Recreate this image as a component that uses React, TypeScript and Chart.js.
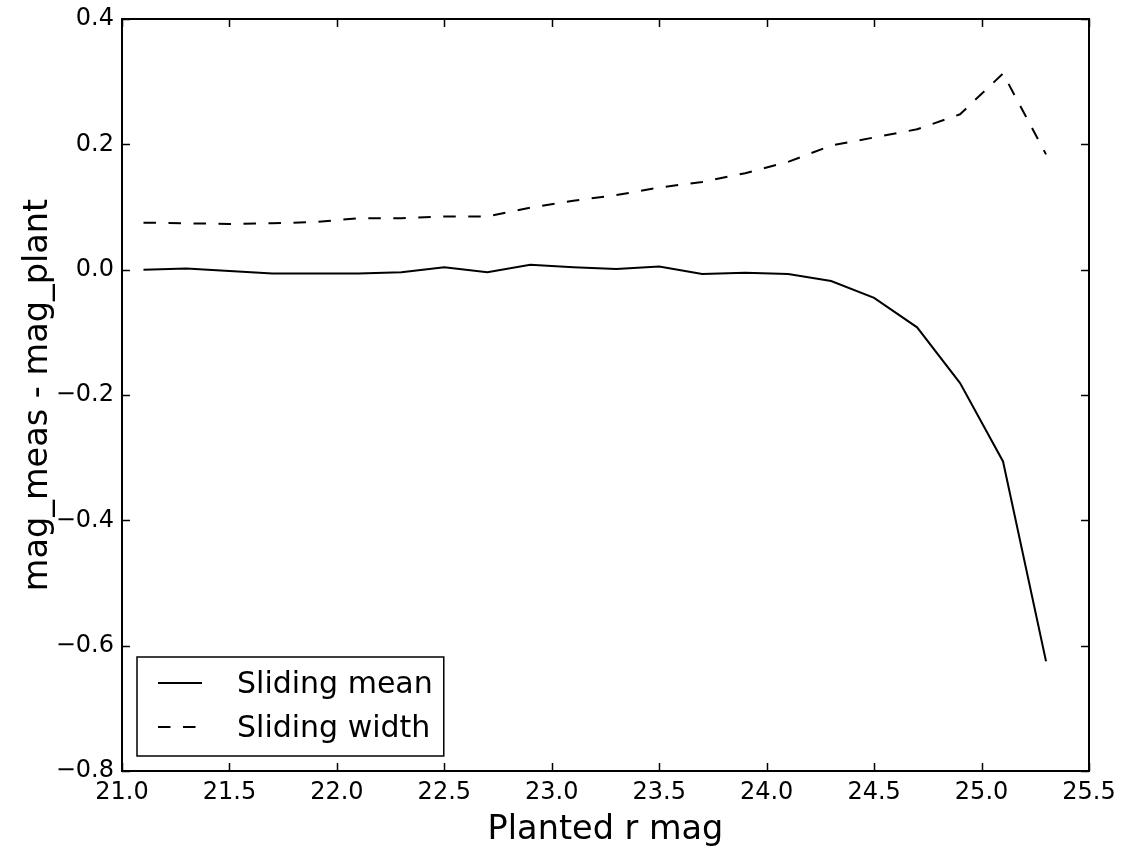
import React, { useEffect, useRef } from "react";
import { Chart, registerables } from "chart.js";

Chart.register(...registerables);

const planted: number[] = [21.1, 21.3, 21.5, 21.7, 21.9, 22.1, 22.3, 22.5, 22.7, 22.9, 23.1, 23.3, 23.5, 23.7, 23.9, 24.1, 24.3, 24.5, 24.7, 24.9, 25.1, 25.3];
const slidingMean: number[] = [0.0, 0.002, -0.002, -0.006, -0.006, -0.006, -0.004, 0.004, -0.004, 0.008, 0.004, 0.001, 0.005, -0.007, -0.005, -0.007, -0.018, -0.045, -0.092, -0.181, -0.306, -0.625];
const slidingWidth: number[] = [0.075, 0.074, 0.073, 0.074, 0.076, 0.082, 0.082, 0.085, 0.085, 0.099, 0.11, 0.119, 0.131, 0.14, 0.154, 0.172, 0.198, 0.211, 0.224, 0.248, 0.313, 0.184];
const seriesLabels: string[] = ["Sliding mean", "Sliding width"];
const xAxisTitle = "Planted r mag";
const yAxisTitle = "mag_meas - mag_plant";
const xMin = 21.0, xMax = 25.5, xStep = 0.5;
const yMin = -0.8, yMax = 0.4, yStep = 0.2;

const FONT = "'DejaVu Sans', 'Liberation Sans', sans-serif";

const fmt = (v: number) => {
  const s = Number(v).toFixed(1);
  return s.startsWith("-") ? "\u2212" + s.slice(1) : s;
};

const framePlugin = {
  id: "mplFrame",
  afterDatasetsDraw(chart: any) {
    const { ctx, chartArea: a, scales } = chart;
    const tl = 8;
    ctx.save();
    ctx.strokeStyle = "#000";
    ctx.lineWidth = 1.5;
    const xs = scales.x;
    xs.ticks.forEach((t: any) => {
      const px = Math.round(xs.getPixelForValue(t.value)) + 0.5;
      ctx.beginPath();
      ctx.moveTo(px, a.bottom);
      ctx.lineTo(px, a.bottom - tl);
      ctx.moveTo(px, a.top);
      ctx.lineTo(px, a.top + tl);
      ctx.stroke();
    });
    const ys = scales.y;
    ys.ticks.forEach((t: any) => {
      const py = Math.round(ys.getPixelForValue(t.value)) + 0.5;
      ctx.beginPath();
      ctx.moveTo(a.left, py);
      ctx.lineTo(a.left + tl, py);
      ctx.moveTo(a.right, py);
      ctx.lineTo(a.right - tl, py);
      ctx.stroke();
    });
    ctx.lineWidth = 2;
    ctx.strokeRect(a.left, a.top, a.right - a.left, a.bottom - a.top);

    // legend (lower left, inside axes)
    const ds = chart.data.datasets;
    ctx.font = `30px ${FONT}`;
    let maxW = 0;
    ds.forEach((d: any) => {
      maxW = Math.max(maxW, ctx.measureText(d.label).width);
    });
    const bx = a.left + 15;
    const bh = 99;
    const by = a.bottom - 15 - bh;
    const bw = 100 + maxW + 11;
    ctx.fillStyle = "#fff";
    ctx.fillRect(bx, by, bw, bh);
    ctx.lineWidth = 1.5;
    ctx.strokeRect(bx, by, bw, bh);
    ds.forEach((d: any, i: number) => {
      const ry = by + 26 + i * 44;
      ctx.save();
      ctx.strokeStyle = d.borderColor;
      ctx.lineWidth = d.borderWidth;
      ctx.setLineDash(d.borderDash || []);
      ctx.beginPath();
      ctx.moveTo(bx + 21, ry);
      ctx.lineTo(bx + 65, ry);
      ctx.stroke();
      ctx.restore();
      ctx.fillStyle = "#000";
      ctx.textBaseline = "alphabetic";
      ctx.textAlign = "left";
      ctx.fillText(d.label, bx + 100, ry + 10);
    });
    ctx.restore();
  },
};

export default function App() {
  const ref = useRef<HTMLCanvasElement | null>(null);
  useEffect(() => {
    if (!ref.current) return;
    const mk = (ys: number[]) => planted.map((x, i) => ({ x, y: ys[i] }));
    const chart = new Chart(ref.current, {
      type: "line",
      data: {
        datasets: [
          {
            label: seriesLabels[0],
            data: mk(slidingMean),
            borderColor: "#000",
            borderWidth: 2,
            pointRadius: 0,
            fill: false,
            tension: 0,
          },
          {
            label: seriesLabels[1],
            data: mk(slidingWidth),
            borderColor: "#000",
            borderWidth: 2,
            borderDash: [12.5, 12.5],
            pointRadius: 0,
            fill: false,
            tension: 0,
          },
        ],
      },
      options: {
        animation: false,
        responsive: false,
        devicePixelRatio: 1,
        layout: { autoPadding: false, padding: { left: 0, top: 19, right: 36, bottom: 0 } },
        plugins: {
          legend: { display: false },
          tooltip: { enabled: false },
        },
        scales: {
          x: {
            type: "linear",
            min: xMin,
            max: xMax,
            ticks: {
              stepSize: xStep,
              callback: (v: any) => fmt(v),
              color: "#000",
              font: { family: FONT, size: 24 },
              padding: 7,
              maxRotation: 0,
              autoSkip: false,
            },
            grid: { display: false, drawTicks: false },
            border: { display: false },
            title: {
              display: true,
              text: xAxisTitle,
              color: "#000",
              font: { family: FONT, size: 33.5 },
              padding: { top: 0, bottom: 4 },
            },
            afterFit: (s: any) => {
              s.height = 83;
              s.paddingLeft = 0;
              s.paddingRight = 0;
            },
          },
          y: {
            type: "linear",
            min: yMin,
            max: yMax,
            ticks: {
              stepSize: yStep,
              callback: (v: any) => fmt(v),
              color: "#000",
              font: { family: FONT, size: 24 },
              padding: 8,
              autoSkip: false,
            },
            grid: { display: false, drawTicks: false },
            border: { display: false },
            title: {
              display: true,
              text: yAxisTitle,
              color: "#000",
              font: { family: FONT, size: 33.5 },
              padding: { top: 18, bottom: 0 },
            },
            afterFit: (s: any) => {
              s.width = 122;
              s.paddingTop = 0;
              s.paddingBottom = 0;
            },
          },
        },
      },
      plugins: [framePlugin],
    });
    return () => chart.destroy();
  }, []);
  return (
    <div style={{ position: "absolute", left: 0, top: 0, width: 1125, height: 854, background: "#fff" }}>
      <canvas ref={ref} width={1125} height={854} style={{ width: 1125, height: 854, display: "block" }} />
    </div>
  );
}
